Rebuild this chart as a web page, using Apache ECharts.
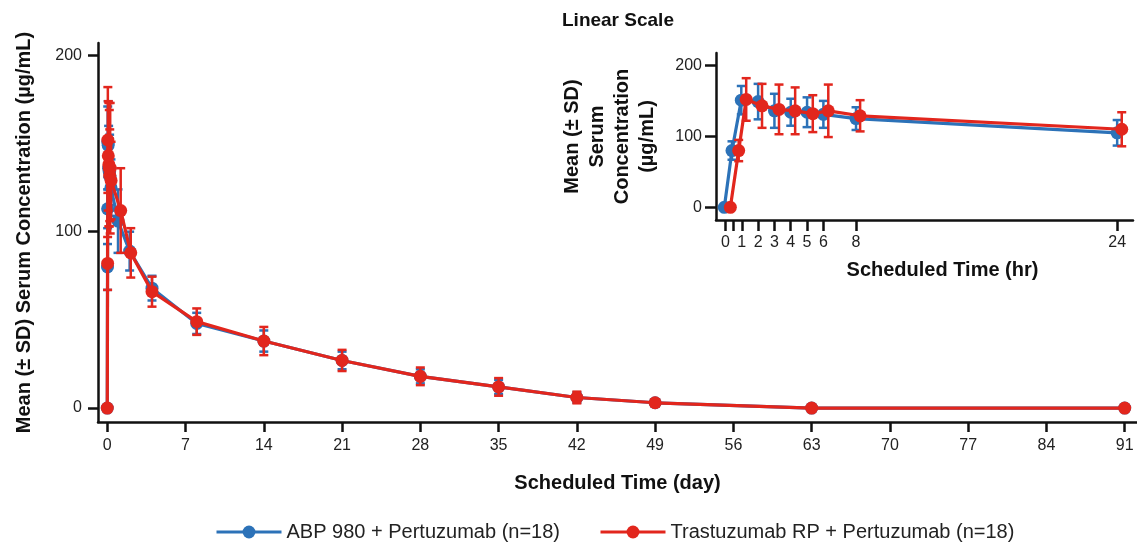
<!DOCTYPE html>
<html>
<head>
<meta charset="utf-8">
<script src="https://cdn.jsdelivr.net/npm/echarts@6/dist/echarts.min.js"></script>
<style>
  html, body { margin: 0; padding: 0; background: #fff; }
  #chart { width: 1137px; height: 542px; }
</style>
</head>
<body>
<div id="chart"></div>
<script>
// main plot, time in days
const dayTicks = [0, 7, 14, 21, 28, 35, 42, 49, 56, 63, 70, 77, 84, 91];
const blueDay = [0, 0.02, 0.03, 0.04, 0.08, 0.12, 0.17, 0.21, 0.25, 0.33, 0.96, 2, 4, 8, 14, 21, 28, 35, 42, 49, 63, 91];
const blueMean = [0, 80, 113, 151, 149, 136, 134, 134, 131, 125, 106, 89, 68, 48, 38, 27, 18, 12, 6, 3, 0, 0];
const blueSd = [0, 13, 11, 20, 25, 24, 19, 21, 19, 16, 18, 11, 7, 6, 6, 5, 4, 4, 3, 2, 0, 0];
const redDay = [0, 0.03, 0.05, 0.09, 0.14, 0.18, 0.22, 0.26, 0.34, 1.2, 2.1, 4, 8, 14, 21, 28, 35, 42, 49, 63, 91];
const redMean = [0, 82, 152, 143, 138, 136, 132, 136, 129, 112, 88, 66, 49, 38, 27, 18, 12, 6, 3, 0, 0];
const redSd = [0, 15, 30, 31, 35, 33, 26, 37, 22, 24, 14, 8.5, 7.5, 8, 6, 5, 5, 3.3, 2, 0, 0];

// inset, time in hours
const hrTicks = [0, 0.5, 1, 2, 3, 4, 5, 6, 8, 24];
const hrLabels = [0, 1, 2, 3, 4, 5, 6, 8, 24];
const blueHr = [-0.07, 0.4, 0.97, 2, 3, 4, 5, 6, 8, 24];
const blueHrMean = [0, 80, 151, 149, 136, 134, 134, 131, 125, 105];
const blueHrSd = [0, 13, 20, 25, 24, 19, 21, 19, 16, 18];
const redHr = [0.3, 0.81, 1.27, 2.24, 3.28, 4.27, 5.35, 6.3, 8.25, 24.28];
const redHrMean = [0, 80, 152, 143, 138, 136, 132, 136, 129, 110];
const redHrSd = [0, 15, 30, 31, 35, 33, 26, 37, 22, 24];

const BLUE = '#2c72b8';
const RED = '#e2261d';
const INK = '#111';
const FONT = '"Liberation Sans", Arial, sans-serif';
const blueName = 'ABP 980 + Pertuzumab (n=18)';
const redName = 'Trastuzumab RP + Pertuzumab (n=18)';

const pts = (xs, ys) => xs.map((x, i) => [x, ys[i]]);
const bars = (xs, ys, sd) => xs.map((x, i) => [x, ys[i] - sd[i], ys[i] + sd[i]]).filter((d, i) => sd[i] > 0);

function errRender(color){
  return (params, api)=>{
    const x = api.value(0);
    const lo = api.coord([x, api.value(1)]);
    const hi = api.coord([x, api.value(2)]);
    const style = { stroke: color, lineWidth: 2.5 };
    const cap = 4.5;
    return {
      type: 'group',
      children: [
        { type: 'line', shape: { x1: hi[0], y1: hi[1], x2: lo[0], y2: lo[1] }, style },
        { type: 'line', shape: { x1: hi[0] - cap, y1: hi[1], x2: hi[0] + cap, y2: hi[1] }, style },
        { type: 'line', shape: { x1: lo[0] - cap, y1: lo[1], x2: lo[0] + cap, y2: lo[1] }, style }
      ]
    };
  };
}

function errSeries(data, color, idx, z){
  return {
    type: 'custom', xAxisIndex: idx, yAxisIndex: idx, z,
    renderItem: errRender(color), data, silent: true,
    encode: { x: 0, y: [1, 2] }
  };
}

function lineSeries(name, data, color, idx, z){
  return {
    name, type: 'line', xAxisIndex: idx, yAxisIndex: idx, z,
    data, symbol: 'circle', symbolSize: 13, showSymbol: true,
    lineStyle: { color, width: 3.2 }, itemStyle: { color },
    silent: true
  };
}

const axisCommon = {
  type: 'value',
  splitLine: { show: false },
  axisLine: { show: true, onZero: false, lineStyle: { color: INK, width: 2.5 } },
  axisTick: { show: true, length: 10, lineStyle: { color: INK, width: 2.5 } },
  axisLabel: { color: '#222', fontSize: 16, fontFamily: FONT },
  nameLocation: 'middle',
  nameTextStyle: { color: '#111', fontSize: 20, fontWeight: 'bold', fontFamily: FONT }
};

const chart = echarts.init(document.getElementById('chart'));

const option = {
  animation: false,
  backgroundColor: '#fff',
  title: {
    text: 'Linear Scale', left: 557, top: 6,
    textStyle: { color: '#111', fontSize: 19, fontWeight: 'bold', fontFamily: FONT }
  },
  legend: {
    left: 210, top: 517, itemWidth: 65, itemHeight: 16, itemGap: 39,
    lineStyle: { width: 3 },
    textStyle: { color: '#222', fontSize: 20, fontFamily: FONT },
    data: [blueName, redName]
  },
  grid: [
    { left: 98, top: 43, width: 1039, height: 379 },
    { left: 716, top: 53, width: 417, height: 167 }
  ],
  xAxis: [
    Object.assign({}, axisCommon, {
      gridIndex: 0, min: -0.83, max: 92.1,
      axisTick: Object.assign({}, axisCommon.axisTick, { customValues: dayTicks }),
      axisLabel: Object.assign({}, axisCommon.axisLabel, { customValues: dayTicks, margin: 16 }),
      name: 'Scheduled Time (day)', nameGap: 51
    }),
    Object.assign({}, axisCommon, {
      gridIndex: 1, min: -0.58, max: 24.97,
      axisTick: Object.assign({}, axisCommon.axisTick, { customValues: hrTicks, length: 11 }),
      axisLabel: Object.assign({}, axisCommon.axisLabel, { customValues: hrLabels, margin: 15 }),
      name: 'Scheduled Time (hr)', nameGap: 40,
      nameTextStyle: Object.assign({}, axisCommon.nameTextStyle, { padding: [0, 0, 0, 36] })
    })
  ],
  yAxis: [
    Object.assign({}, axisCommon, {
      gridIndex: 0, min: -7.9, max: 207,
      axisTick: Object.assign({}, axisCommon.axisTick, { customValues: [0, 100, 200] }),
      axisLabel: Object.assign({}, axisCommon.axisLabel, { customValues: [0, 100, 200], margin: 16 }),
      name: 'Mean (± SD) Serum Concentration (µg/mL)', nameGap: 64
    }),
    Object.assign({}, axisCommon, {
      gridIndex: 1, min: -17.9, max: 217.5,
      axisTick: Object.assign({}, axisCommon.axisTick, { customValues: [0, 100, 200], length: 11 }),
      axisLabel: Object.assign({}, axisCommon.axisLabel, { customValues: [0, 100, 200], margin: 14 }),
      name: 'Mean (± SD)\nSerum\nConcentration\n(µg/mL)', nameGap: 56,
      nameTextStyle: Object.assign({}, axisCommon.nameTextStyle, { lineHeight: 25 })
    })
  ],
  series: [
    errSeries(bars(blueDay, blueMean, blueSd), BLUE, 0, 2),
    lineSeries(blueName, pts(blueDay, blueMean), BLUE, 0, 3),
    errSeries(bars(redDay, redMean, redSd), RED, 0, 4),
    lineSeries(redName, pts(redDay, redMean), RED, 0, 5),
    errSeries(bars(blueHr, blueHrMean, blueHrSd), BLUE, 1, 2),
    lineSeries(blueName, pts(blueHr, blueHrMean), BLUE, 1, 3),
    errSeries(bars(redHr, redHrMean, redHrSd), RED, 1, 4),
    lineSeries(redName, pts(redHr, redHrMean), RED, 1, 5)
  ]
};

chart.setOption(option);
</script>
</body>
</html>
